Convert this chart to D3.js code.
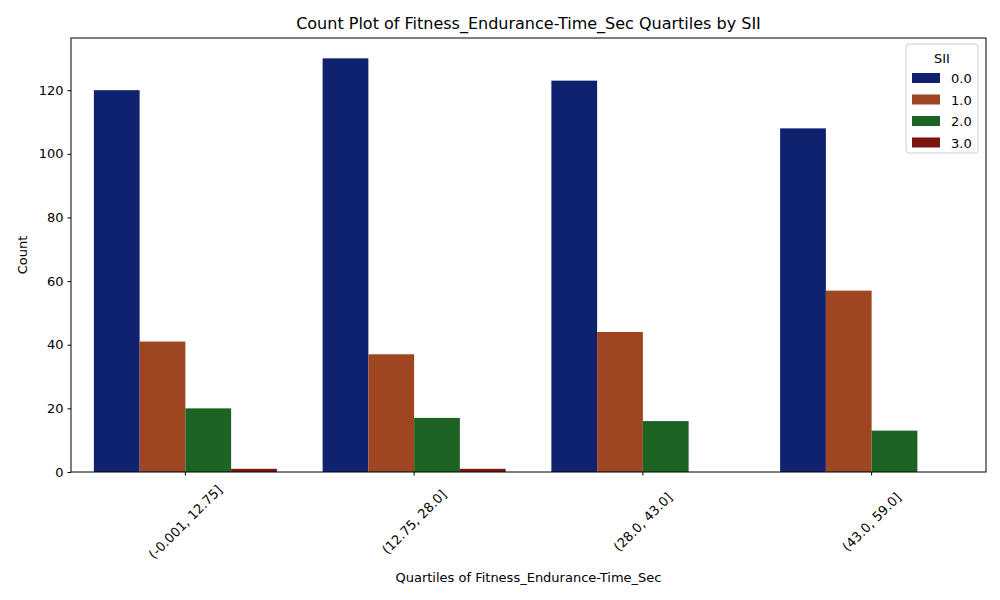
<!DOCTYPE html>
<html><head><meta charset="utf-8">
<script src="https://cdn.jsdelivr.net/npm/d3@7"></script>
<style>body{margin:0;background:#fff}text{font-family:"DejaVu Sans",sans-serif;fill:#000}</style>
</head><body><svg id="chart" width="1000" height="600"></svg>
<script>
// data
var categories = ["(-0.001, 12.75]", "(12.75, 28.0]", "(28.0, 43.0]", "(43.0, 59.0]"];
var series = ["0.0", "1.0", "2.0", "3.0"];
var sii0 = [120, 130, 123, 108];
var sii1 = [41, 37, 44, 57];
var sii2 = [20, 17, 16, 13];
var sii3 = [1, 1, 0, 0];
var yTicks = [0, 20, 40, 60, 80, 100, 120];
var colors = ["#0e226f", "#9e4622", "#1d6324", "#7a1612"];

var values = [sii0, sii1, sii2, sii3];
var margin = {left: 71, right: 14, top: 38, bottom: 128};
var width = 1000 - margin.left - margin.right;
var height = 600 - margin.top - margin.bottom;

var svg = d3.select("#chart");
var chart = svg.append("g").attr("transform", "translate(" + margin.left + "," + margin.top + ")");

var x = d3.scaleBand().domain(categories).range([0, width]).paddingInner(0.2).paddingOuter(0.1);
var inner = d3.scaleBand().domain(series).range([0, x.bandwidth()]);
var y = d3.scaleLinear().domain([0, 136.4]).range([height, 0]);

// bars
series.forEach(function(s, i) {
  chart.selectAll(".bar" + i)
    .data(categories)
    .enter().append("rect")
    .attr("x", function(c) { return x(c) + inner(s); })
    .attr("width", inner.bandwidth())
    .attr("y", function(c, j) { return y(values[i][j]); })
    .attr("height", function(c, j) { return height - y(values[i][j]); })
    .attr("fill", colors[i]);
});

// axes
var yAxis = chart.append("g").call(d3.axisLeft(y).tickValues(yTicks).tickSize(3.5).tickPadding(4));
yAxis.selectAll("text").style("font-size", "13px");
var xAxis = chart.append("g").attr("transform", "translate(0," + height + ")")
  .call(d3.axisBottom(x).tickSize(3.5).tickFormat(""));
xAxis.selectAll(".tick").append("text")
  .attr("transform", "translate(0,50) rotate(-45)")
  .attr("text-anchor", "middle").attr("dy", "0.35em")
  .style("font-size", "13px").style("fill", "#000")
  .text(function(d) { return d; });
chart.selectAll(".domain").remove();
chart.append("rect").attr("width", width).attr("height", height)
  .attr("fill", "none").attr("stroke", "#000").attr("stroke-width", 1);

// labels
svg.append("text").attr("x", margin.left + width / 2).attr("y", 29)
  .attr("text-anchor", "middle").style("font-size", "16px")
  .text("Count Plot of Fitness_Endurance-Time_Sec Quartiles by SII");
svg.append("text").attr("x", margin.left + width / 2).attr("y", 582)
  .attr("text-anchor", "middle").style("font-size", "13px")
  .text("Quartiles of Fitness_Endurance-Time_Sec");
svg.append("text").attr("transform", "translate(27," + (margin.top + height / 2) + ") rotate(-90)")
  .attr("text-anchor", "middle").style("font-size", "13px").text("Count");

// legend
var lg = svg.append("g").attr("transform", "translate(906,44)");
lg.append("rect").attr("width", 72).attr("height", 109).attr("rx", 3)
  .attr("fill", "#fff").attr("fill-opacity", 0.8).attr("stroke", "#ccc");
lg.append("text").attr("x", 36).attr("y", 19).attr("text-anchor", "middle")
  .style("font-size", "13px").text("SII");
series.forEach(function(s, i) {
  var row = lg.append("g").attr("transform", "translate(6," + (29 + i * 21.5) + ")");
  row.append("rect").attr("width", 28).attr("height", 10).attr("fill", colors[i]);
  row.append("text").attr("x", 39).attr("y", 10).style("font-size", "13px").text(s);
});
</script></body></html>
